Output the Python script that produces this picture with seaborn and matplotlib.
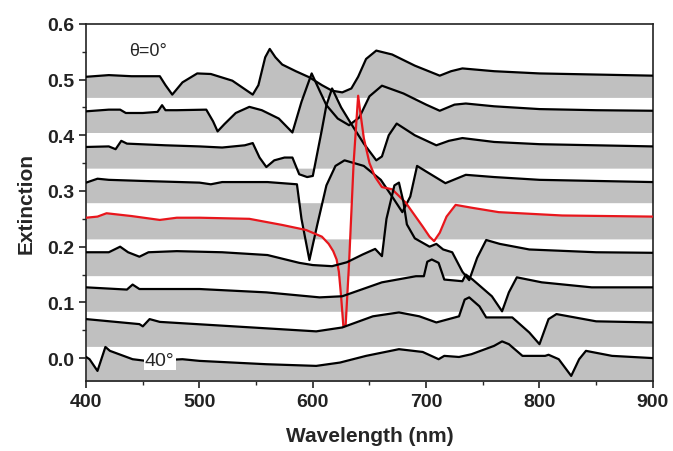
import numpy as np
import seaborn as sns
import matplotlib
matplotlib.use("Agg")
from matplotlib import pyplot as plt
from matplotlib.ticker import MultipleLocator, FormatStrFormatter

sns.set_style("ticks")
plt.rcParams['font.family'] = ['Liberation Sans', 'DejaVu Sans']

# angle order: 0, 5, 10, 15, 20 (red), 25, 30, 35, 40 deg
wl_0 = [400, 420, 440, 465, 470, 476, 485, 498, 510, 529, 547, 552, 558, 562, 567, 573, 585,
        597, 608, 617, 626, 634, 640, 647, 656, 670, 690, 712, 722, 732, 760, 800, 850, 900]
ext_0 = [0.505, 0.508, 0.506, 0.506, 0.49, 0.473, 0.495, 0.511, 0.51, 0.498, 0.473, 0.49,
         0.54, 0.555, 0.54, 0.527, 0.515, 0.504, 0.49, 0.48, 0.477, 0.484, 0.505, 0.537,
         0.552, 0.545, 0.525, 0.507, 0.515, 0.52, 0.515, 0.511, 0.509, 0.507]

wl_5 = [400, 420, 430, 435, 450, 463, 467, 470, 480, 506, 512, 516, 522, 532, 544, 555,
        570, 582, 590, 599, 606, 612, 622, 632, 641, 650, 661, 680, 700, 712, 725, 735,
        760, 800, 850, 900]
ext_5 = [0.443, 0.446, 0.446, 0.44, 0.44, 0.442, 0.454, 0.445, 0.445, 0.446, 0.425, 0.407,
         0.42, 0.44, 0.451, 0.445, 0.43, 0.405, 0.46, 0.511, 0.48, 0.454, 0.43, 0.418,
         0.432, 0.47, 0.489, 0.475, 0.455, 0.444, 0.455, 0.457, 0.452, 0.447, 0.445, 0.444]

wl_10 = [400, 420, 426, 431, 436, 470, 500, 520, 540, 547, 553, 559, 566, 575, 582, 588,
         595, 600, 608, 612, 617, 625, 634, 645, 656, 661, 667, 674, 690, 709, 720, 732,
         760, 800, 900]
ext_10 = [0.379, 0.38, 0.375, 0.39, 0.385, 0.382, 0.38, 0.378, 0.382, 0.386, 0.36, 0.343,
          0.355, 0.36, 0.36, 0.33, 0.325, 0.327, 0.41, 0.454, 0.484, 0.45, 0.42, 0.385,
          0.355, 0.362, 0.4, 0.421, 0.4, 0.382, 0.39, 0.395, 0.388, 0.384, 0.38]

wl_15 = [400, 410, 420, 450, 500, 510, 520, 560, 586, 590, 597, 604, 612, 620, 628, 645,
         660, 670, 679, 686, 692, 700, 717, 735, 760, 800, 900]
ext_15 = [0.315, 0.322, 0.32, 0.318, 0.315, 0.312, 0.316, 0.316, 0.312, 0.25, 0.176, 0.24,
          0.31, 0.345, 0.355, 0.345, 0.32, 0.29, 0.262, 0.29, 0.345, 0.335, 0.314, 0.329,
          0.325, 0.32, 0.316]

wl_20 = [400, 410, 418, 440, 465, 480, 500, 544, 573, 594, 608, 614, 618, 621, 623, 625,
         627, 629, 632, 636, 640, 642, 645, 650, 655, 661, 670, 682, 697, 703, 707, 712,
         718, 726, 740, 764, 820, 900]
ext_20 = [0.252, 0.254, 0.26, 0.255, 0.248, 0.252, 0.252, 0.25, 0.239, 0.23, 0.218, 0.205,
          0.192, 0.177, 0.155, 0.11, 0.056, 0.06, 0.171, 0.35, 0.471, 0.44, 0.395, 0.35,
          0.325, 0.307, 0.303, 0.279, 0.236, 0.218, 0.21, 0.225, 0.254, 0.275, 0.27,
          0.262, 0.256, 0.254]

wl_25 = [400, 420, 425, 430, 437, 447, 455, 480, 520, 560, 588, 600, 617, 630, 644, 655,
         661, 665, 672, 676, 680, 683, 690, 703, 709, 715, 723, 732, 738, 745, 753, 765,
         791, 850, 900]
ext_25 = [0.19, 0.19, 0.195, 0.2, 0.19, 0.182, 0.19, 0.192, 0.19, 0.185, 0.171, 0.167,
          0.165, 0.172, 0.186, 0.196, 0.183, 0.25, 0.31, 0.315, 0.28, 0.24, 0.215, 0.2,
          0.205, 0.195, 0.19, 0.155, 0.14, 0.18, 0.212, 0.205, 0.195, 0.19, 0.189]

wl_30 = [400, 436, 441, 447, 500, 559, 606, 626, 661, 691, 698, 701, 705, 711, 716, 732,
         735, 741, 758, 767, 773, 780, 802, 846, 900]
ext_30 = [0.127, 0.123, 0.132, 0.124, 0.124, 0.118, 0.109, 0.111, 0.136, 0.147, 0.147,
          0.173, 0.177, 0.171, 0.141, 0.138, 0.15, 0.141, 0.111, 0.084, 0.118, 0.145, 0.136,
          0.127, 0.127]

wl_35 = [400, 447, 450, 456, 465, 530, 603, 626, 653, 676, 694, 709, 729, 734, 738, 747,
         753, 776, 791, 800, 808, 815, 850, 900]
ext_35 = [0.07, 0.061, 0.057, 0.07, 0.065, 0.057, 0.048, 0.055, 0.075, 0.082, 0.075,
          0.064, 0.075, 0.105, 0.109, 0.093, 0.073, 0.073, 0.046, 0.025, 0.07, 0.079, 0.066,
          0.064]

wl_40 = [400, 403, 410, 417, 421, 441, 453, 485, 500, 559, 603, 624, 647, 676, 697, 711,
         716, 729, 740, 760, 767, 773, 785, 805, 808, 817, 828, 835, 841, 864, 900]
ext_40 = [0.002, -0.002, -0.023, 0.02, 0.013, -0.002, -0.005, -0.002, -0.005, -0.011,
          -0.014, -0.008, 0.004, 0.016, 0.011, -0.002, 0.004, 0.002, 0.007, 0.022, 0.03,
          0.025, 0.004, 0.004, 0.006, -0.002, -0.032, -0.002, 0.013, 0.004, 0.0]

curves = [(wl_0, ext_0), (wl_5, ext_5), (wl_10, ext_10), (wl_15, ext_15), (wl_20, ext_20),
          (wl_25, ext_25), (wl_30, ext_30), (wl_35, ext_35), (wl_40, ext_40)]
baselines = [0.468, 0.405, 0.341, 0.279, 0.214, 0.148, 0.084, 0.021, -0.06]
line_colors = ['black'] * 4 + ['#e8161c'] + ['black'] * 4

fig = plt.figure(figsize=(6.73, 4.52), dpi=100)
ax = fig.add_axes([0.128, 0.155, 0.842, 0.79])

for (w, e), b in zip(curves, baselines):
    ax.fill_between(w, e, b, color='#c0c0c0', linewidth=0, zorder=1)

for (w, e), c in zip(curves, line_colors):
    sns.lineplot(x=w, y=e, ax=ax, color=c, linewidth=1.6, sort=False,
                 estimator=None, zorder=3)

ax.set_xlim(400, 900)
ax.set_ylim(-0.041, 0.6)
ax.xaxis.set_major_locator(MultipleLocator(100))
ax.xaxis.set_minor_locator(MultipleLocator(50))
ax.yaxis.set_major_locator(MultipleLocator(0.1))
ax.yaxis.set_minor_locator(MultipleLocator(0.05))
ax.yaxis.set_major_formatter(FormatStrFormatter('%.1f'))
ax.tick_params(which='major', direction='out', length=5, width=1.2, labelsize=14,
               colors='#222222')
ax.tick_params(which='minor', direction='out', length=3, width=1)
for lab in ax.get_xticklabels() + ax.get_yticklabels():
    lab.set_fontweight('bold')
for sp in ax.spines.values():
    sp.set_linewidth(1.2)
    sp.set_color('#222222')

ax.set_xlabel('Wavelength (nm)', fontsize=15, fontweight='bold', labelpad=12)
ax.set_ylabel('Extinction', fontsize=15, fontweight='bold', labelpad=8)

ax.text(455, 0.552, 'θ=0°', fontsize=13, ha='center', va='center', zorder=5)
ax.text(465, -0.004, '40°', fontsize=14, ha='center', va='center', zorder=5,
        bbox=dict(facecolor='white', edgecolor='none', pad=1))

fig.savefig('out.png', dpi=100)
